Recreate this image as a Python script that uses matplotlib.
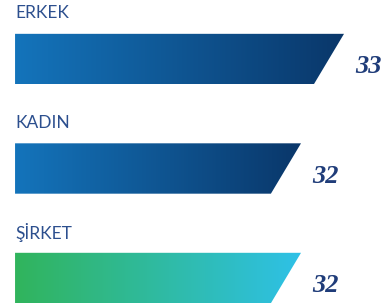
import numpy as np
import matplotlib.pyplot as plt
from matplotlib.patches import Polygon
from matplotlib.colors import LinearSegmentedColormap

# veriler
kategoriler = ['ERKEK', 'KADIN', 'ŞİRKET']
degerler = [33, 32, 32]
renkler = [('#1474bb', '#0a376a'), ('#1474bb', '#0a376a'), ('#31b45c', '#2ec1e7')]

taban = 25.35   # barların başladığı değer
egim = 0.7      # sağ kenardaki eğim (x birimi)
yukseklik = 0.46

fig = plt.figure(figsize=(3.87, 3.07), dpi=100)
ax = fig.add_axes([0, 0, 1, 1])
ax.set_xlim(25, 34)
ax.set_ylim(2.265, -0.539)
ax.axis('off')

for i, (kat, deg, (c1, c2)) in enumerate(zip(kategoriler, degerler, renkler)):
    ust, alt = i - yukseklik / 2, i + yukseklik / 2
    cmap = LinearSegmentedColormap.from_list('g%d' % i, [c1, c2])
    grad = np.linspace(0, 1, 256).reshape(1, -1)
    im = ax.imshow(grad, cmap=cmap, aspect='auto', extent=(taban, deg, alt, ust), zorder=2)
    poly = Polygon([(taban, ust), (deg, ust), (deg - egim, alt), (taban, alt)],
                   closed=True, facecolor='none', edgecolor='none')
    ax.add_patch(poly)
    im.set_clip_path(poly)

    ax.text(taban, i - 0.42, kat, fontsize=12.5, family='Lato', color='#2c4f8e',
            ha='left', va='center')
    ax.text(deg + 0.25, i + 0.07, str(deg), fontsize=19, family='Liberation Serif',
            style='italic', weight='bold', color='#1f3c79', ha='left', va='center')

ax.set_xlim(25, 34)
ax.set_ylim(2.265, -0.539)
fig.savefig('out.png', dpi=100)
